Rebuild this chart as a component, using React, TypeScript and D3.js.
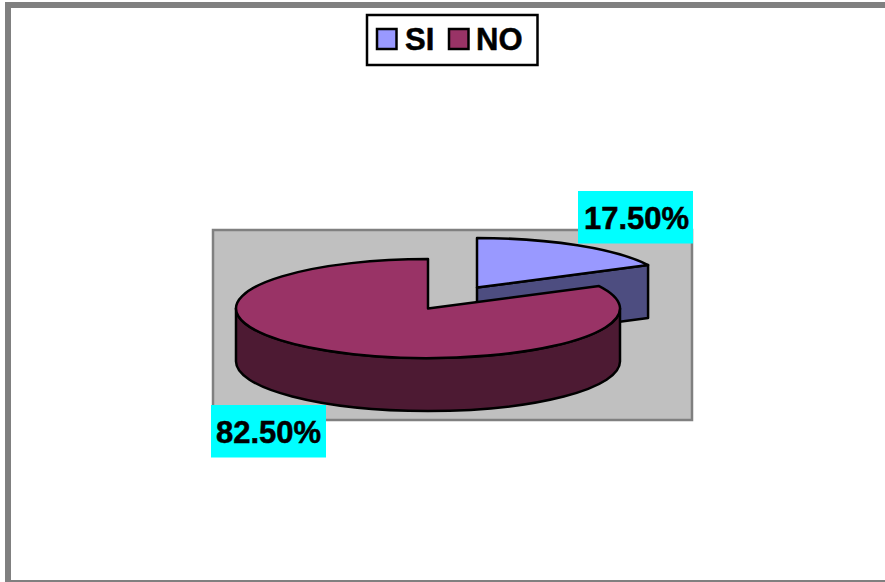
import React from "react";
import * as d3 from "d3";

const categories = ["SI", "NO"];
const seriesValues = [17.5, 82.5];
const valueLabels = ["17.50%", "82.50%"];
const topColors = ["#9999FF", "#993366"];
const wallColors = ["#4D4D80", "#4D1A33"];

const RX = 192;
const RY = 49.5;
const DEPTH = 53;
const font = "'Liberation Sans', Arial, sans-serif";

const slices = d3.pie<number>().sort(null)(seriesValues);
const pt = (cx: number, cy: number, a: number): [number, number] => [
  cx + RX * Math.sin(a),
  cy - RY * Math.cos(a),
];
const arcTo = (p: [number, number], sweep: number, large = 0) =>
  `A${RX} ${RY} 0 ${large} ${sweep} ${p[0]} ${p[1]}`;

function topFace(cx: number, cy: number, a0: number, a1: number) {
  const s = pt(cx, cy, a0);
  const e = pt(cx, cy, a1);
  return `M${cx} ${cy}L${s[0]} ${s[1]}${arcTo(e, 1, a1 - a0 > Math.PI ? 1 : 0)}Z`;
}

export default function App() {
  const si = slices[0];
  const no = slices[1];
  const siC: [number, number] = [477, 287.5];
  const noC: [number, number] = [428, 308.5];
  const siEnd = pt(siC[0], siC[1], si.endAngle);
  const noR = pt(noC[0], noC[1], Math.PI / 2);
  const noL = pt(noC[0], noC[1], (3 * Math.PI) / 2);
  const siWall = `M${siC[0]} ${siC[1]}L${siEnd[0]} ${siEnd[1]}V${siEnd[1] + DEPTH}L${siC[0]} ${siC[1] + DEPTH}Z`;
  const noWall = `M${noL[0]} ${noL[1]}${arcTo(noR, 0)}V${noR[1] + DEPTH}${arcTo([noL[0], noL[1] + DEPTH], 1)}Z`;
  const stroke = { stroke: "#000", strokeWidth: 2.5, strokeLinejoin: "round" as const };
  const boxes = [
    { x: 578, y: 191, tx: 636.5, ty: 228.5 },
    { x: 211, y: 405, tx: 268.5, ty: 442.5 },
  ];
  const legend = [
    { sx: 377, tx: 405 },
    { sx: 449, tx: 476 },
  ];
  const heavy = { stroke: "#000", strokeWidth: 0.5 };
  return (
    <svg
      width={885}
      height={582}
      style={{ position: "fixed", left: 0, top: 0, background: "#fff", display: "block" }}
    >
      <rect x={0} y={0} width={885} height={582} fill="#fff" />
      <rect x={5} y={2} width={880} height={6} fill="#808080" />
      <rect x={5} y={2} width={6} height={580} fill="#808080" />
      <rect x={5} y={580} width={880} height={2} fill="#808080" />

      <rect x={213} y={230} width={479} height={190} fill="#C0C0C0" stroke="#808080" strokeWidth={2.5} />

      <path d={siWall} fill={wallColors[0]} {...stroke} />
      <path d={topFace(siC[0], siC[1], si.startAngle, si.endAngle)} fill={topColors[0]} {...stroke} />
      <path d={noWall} fill={wallColors[1]} {...stroke} />
      <path d={topFace(noC[0], noC[1], no.startAngle, no.endAngle)} fill={topColors[1]} {...stroke} />

      {boxes.map((b, i) => (
        <g key={i}>
          <rect x={b.x} y={b.y} width={115} height={52.5} fill="#00FFFF" />
          <text
            x={b.tx}
            y={b.ty}
            textAnchor="middle"
            fontFamily={font}
            fontWeight="bold"
            fontSize={31}
            fill="#000"
            {...heavy}
          >
            {valueLabels[i]}
          </text>
        </g>
      ))}

      <rect x={367} y={15} width={170.5} height={50} fill="#fff" stroke="#000" strokeWidth={2.5} />
      {categories.map((c, i) => (
        <g key={c}>
          <rect
            x={legend[i].sx}
            y={29}
            width={19.5}
            height={20}
            fill={topColors[i]}
            stroke="#000"
            strokeWidth={2.5}
          />
          <text x={legend[i].tx} y={50} fontFamily={font} fontWeight="bold" fontSize={31} fill="#000" {...heavy}>
            {c}
          </text>
        </g>
      ))}
    </svg>
  );
}
